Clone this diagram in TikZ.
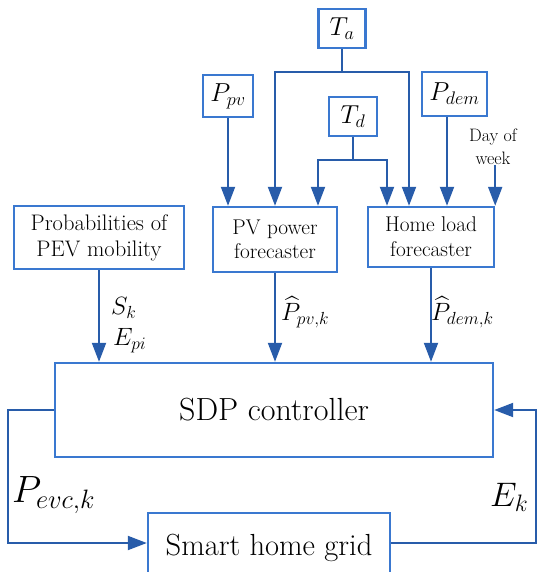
\RequirePackage{fix-cm}
\documentclass[tikz,border=0pt]{standalone}
\usepackage{amsmath}
\usetikzlibrary{arrows.meta}
\definecolor{boxc}{RGB}{58,120,208}
\definecolor{linec}{RGB}{40,92,170}
\begin{document}
\begin{tikzpicture}[x=1pt,y=-1pt,
  box/.style={draw=boxc,line width=2.4pt,inner sep=0pt,align=center},
  conn/.style={draw=linec,line width=2pt},
  arr/.style={conn,-{Triangle[length=19pt,width=14pt]}},
  lbl/.style={inner sep=0pt,anchor=west}]
\useasboundingbox (0,0) rectangle (537,572);
\clip (0,0) rectangle (537,572);
% input boxes
\node[box,minimum width=47pt,minimum height=39pt,font=\fontsize{26}{28}\selectfont] (Ta) at (342,28.5) {$T_a$};
\node[box,minimum width=50pt,minimum height=42pt,font=\fontsize{26}{28}\selectfont] (Ppv) at (228,96) {$P_{pv}$};
\node[box,minimum width=48pt,minimum height=39pt,font=\fontsize{26}{28}\selectfont] (Td) at (353,116.5) {$T_d$};
\node[box,minimum width=65pt,minimum height=44pt,font=\fontsize{26}{28}\selectfont] (Pdem) at (454.5,94) {$P_{dem}$};
\node[inner sep=0pt,align=center,font=\fontsize{18}{23}\selectfont] (dow) at (493,147) {Day of\\week};
% forecasters
\node[box,minimum width=124pt,minimum height=65pt,font=\fontsize{21.3}{24}\selectfont] (pv) at (275,239.5) {PV power\\forecaster};
\node[box,minimum width=126pt,minimum height=60pt,font=\fontsize{21.3}{25}\selectfont] (hl) at (431,237) {Home load\\forecaster};
\node[box,minimum width=170pt,minimum height=63pt,font=\fontsize{22.5}{26}\selectfont] (prob) at (99,237.5) {Probabilities of\\PEV mobility};
% controller and grid
\node[box,minimum width=438pt,minimum height=94pt,font=\fontsize{32}{34}\selectfont] (sdp) at (274,410) {SDP controller};
\node[box,minimum width=242pt,minimum height=94pt] (shg) at (269,560) {};
\node[inner sep=0pt,font=\fontsize{30.5}{32}\selectfont] (shgt) at (269,548) {Smart home grid};
% connectors from inputs
\coordinate (taj) at (342,72);
\draw[conn] (Ta.south) -- (taj);
\draw[arr] (taj) -| (pv.north);
\draw[arr] (taj) -| ([xshift=-22pt]hl.north);
\coordinate (tdj) at (353,160);
\draw[conn] (Td.south) -- (tdj);
\draw[arr] (tdj) -| ([xshift=43pt]pv.north);
\draw[arr] (tdj) -| ([xshift=-44pt]hl.north);
\draw[arr] (Ppv.south) -- (Ppv.south |- pv.north);
\draw[arr] ([xshift=-7.5pt]Pdem.south) -- ([xshift=-7.5pt]Pdem.south |- hl.north);
\draw[arr] (dow.south -| hl.north east) -- (hl.north east);
% outputs to controller
\draw[arr] (prob.south) -- (prob.south |- sdp.north);
\draw[arr] (pv.south) -- (pv.south |- sdp.north);
\draw[arr] (hl.south) -- (hl.south |- sdp.north);
% loop
\coordinate (L) at (8,410);
\coordinate (lb) at (8,543);
\coordinate (R) at (535.5,410);
\coordinate (rb) at (535.5,543);
\draw[arr] (sdp.west) -- (L) -- (lb) -- (lb -| shg.west);
\draw[arr] (shg.east |- rb) -- (rb) -- (R) -- (sdp.east);
% labels
\node[lbl,font=\fontsize{25}{27}\selectfont] (sk) at (111,308) {$S_k$};
\node[lbl,font=\fontsize{25}{27}\selectfont] (epi) at (113,341) {$E_{pi}$};
\node[lbl,font=\fontsize{25}{27}\selectfont] (ppvk) at (281,312) {$\widehat{P}_{pv,k}$};
\node[lbl,font=\fontsize{25}{27}\selectfont] (pdemk) at (431,312) {$\widehat{P}_{dem,k}$};
\node[lbl,font=\fontsize{38}{40}\selectfont] (pevc) at (12,495) {$P_{evc,k}$};
\node[lbl,font=\fontsize{34}{36}\selectfont] (ek) at (490,497) {$E_k$};
\end{tikzpicture}
\end{document}
